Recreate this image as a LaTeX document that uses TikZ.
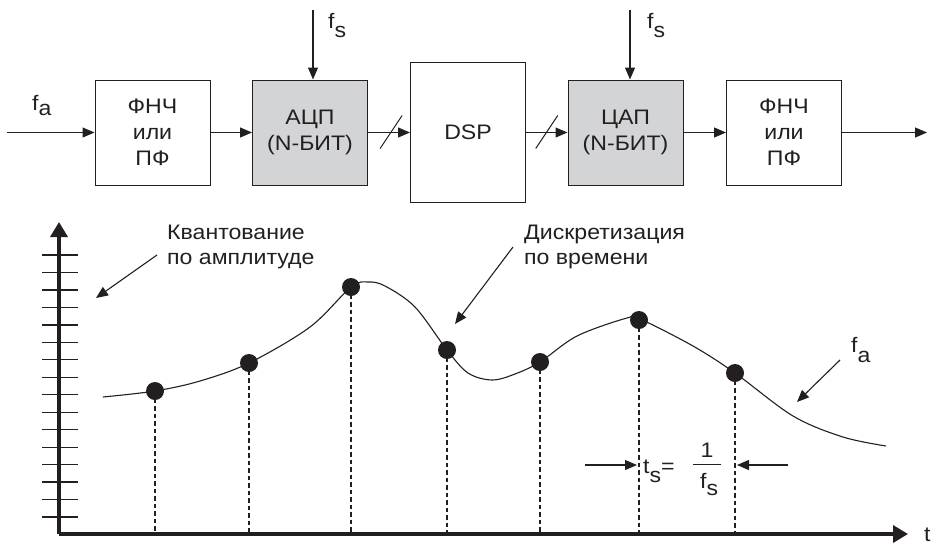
\documentclass[tikz,border=0pt]{standalone}
\usepackage{fontspec}
\setmainfont{Liberation Sans}[FakeStretch=1.1]
\usetikzlibrary{arrows.meta,calc}
% subscript set at full size, lowered below the baseline
\newcommand\lowsub[2][9pt]{\raisebox{-#1}{#2}}
\definecolor{ink}{RGB}{35,31,32}
\definecolor{boxgray}{RGB}{211,212,214}
\begin{document}
\begin{tikzpicture}[x=1pt,y=-1pt,
  every node/.style={text=ink},
  blockbox/.style={draw=ink, line width=1pt, minimum width=115pt,
    minimum height=105pt, align=center, inner sep=0pt,
    font=\fontsize{21}{26}\selectfont},
  sig/.style={draw=ink, line width=1.1pt, -{Triangle[length=12pt,width=10pt]}},
  axis/.style={draw=ink, line width=3.5pt, -{Triangle[length=15pt,width=17pt]}},
  tick/.style={draw=ink, line width=1.3pt},
  guide/.style={draw=ink, line width=1.1pt, dash pattern=on 4.5pt off 3pt},
  curve/.style={draw=ink, line width=1.1pt},
  dot/.style={circle, fill=ink, inner sep=0pt, minimum size=18pt},
  lbl/.style={font=\fontsize{21}{25}\selectfont, inner sep=0pt, align=left},
]
\useasboundingbox (0,0) rectangle (937,544);

% ---------- signal chain ----------
\node[blockbox] (lpf1) at (152.5,132.5) {ФНЧ\\или\\ПФ};
\node[blockbox, fill=boxgray] (adc) at (310,132.5) {АЦП\\(N-БИТ)};
\node[blockbox, minimum height=140pt] (dsp) at (468,132.5) {DSP};
\node[blockbox, fill=boxgray] (dac) at (625.5,132.5) {ЦАП\\(N-БИТ)};
\node[blockbox] (lpf2) at (784,132.5) {ФНЧ\\или\\ПФ};

\coordinate (in) at (7,132.5);
\coordinate (out) at (927,132.5);
\draw[sig] (in) -- (lpf1);
\draw[sig] (lpf1) -- (adc);
\draw[sig] (adc) -- (dsp);
\draw[sig] (dsp) -- (dac);
\draw[sig] (dac) -- (lpf2);
\draw[sig] (lpf2) -- (out);
\node[lbl, anchor=base west] (fa1) at (32,110) {f\lowsub[5pt]{a}};

% bus slashes
\coordinate (bus1) at ($(adc.east)!0.55!(dsp.west)$);
\coordinate (bus2) at ($(dsp.east)!0.5!(dac.west)$);
\draw[ink, line width=1pt] ($(bus1)+(-11,16)$) -- ($(bus1)+(11,-17)$);
\draw[ink, line width=1pt] ($(bus2)+(-11,16)$) -- ($(bus2)+(11,-17)$);

% sampling clocks
\coordinate (clk1) at (313,10);
\coordinate (clk2) at (630,10);
\draw[sig] (clk1) -- (clk1 |- adc.north);
\draw[sig] (clk2) -- (clk2 |- dac.north);
\node[lbl, anchor=base west] (fs1) at (328,28) {f\lowsub{s}};
\node[lbl, anchor=base west] (fs2) at (647,28) {f\lowsub{s}};

% ---------- sampling diagram ----------
\coordinate (O) at (59,534);
\coordinate (ytop) at (59,222);
\coordinate (xend) at (908,534);

\foreach \k in {0,...,15}
  \draw[tick] (42,{255+\k*17.47}) -- (78,{255+\k*17.47});

\draw[axis] (O) -- (ytop);
\draw[axis] (O) -- (xend);
\node[lbl, anchor=base west] (tlab) at (924,541) {t};

% analog signal
\draw[curve] plot[smooth, tension=0.55] coordinates {
  (103,397) (155,391) (200,381) (249,363) (310,327) (351,287)
  (368,282) (385,286) (415,307) (447,350) (468,373) (492,380)
  (515,374) (540,362) (577,336) (627,318) (640,319) (693,346)
  (735,373) (793,416) (843,437) (886,446)};

% samples
\foreach \n/\x/\y in {1/155/391, 2/249/363, 3/351/287, 4/447/350,
                      5/540/362, 6/639/320, 7/735/373} {
  \node[dot] (s\n) at (\x,\y) {};
  \draw[guide] (s\n.center) -- (s\n |- O);
}

% annotations
\node[lbl, anchor=north west] (quant) at (167,224.5) {Квантование\\по амплитуде};
\coordinate (qa) at (157,255);
\coordinate (qb) at (96,298);
\draw[sig] (qa) -- (qb);

\node[lbl, anchor=north west] (disc) at (524,224.5) {Дискретизация\\по времени};
\coordinate (da) at (513,247);
\coordinate (db) at (455,324);
\draw[sig] (da) -- (db);

\node[lbl, anchor=base west] (fa2) at (851,352) {f\lowsub[10pt]{a}};
\coordinate (fa) at (840,360);
\coordinate (fb) at (797,402);
\draw[sig] (fa) -- (fb);

% sampling period  t_s = 1 / f_s
\node[lbl, anchor=base west] (ts) at (643,473) {t\lowsub{s}=};
\coordinate (barl) at (693,464);
\coordinate (barr) at (721,464);
\draw[ink, line width=1pt] (barl) -- (barr);
\node[lbl, anchor=base] (num) at ($(barl)!0.5!(barr)+(0,-7)$) {1};
\node[lbl, anchor=base west] (den) at ($(barl)+(7,24)$) {f\lowsub[7pt]{s}};
\coordinate (pl) at (585,465);
\coordinate (pr) at (788,465);
\draw[sig] (pl) -- ($(s6 |- pl)+(-2,0)$);
\draw[sig] (pr) -- ($(s7 |- pr)+(2,0)$);
\end{tikzpicture}
\end{document}
